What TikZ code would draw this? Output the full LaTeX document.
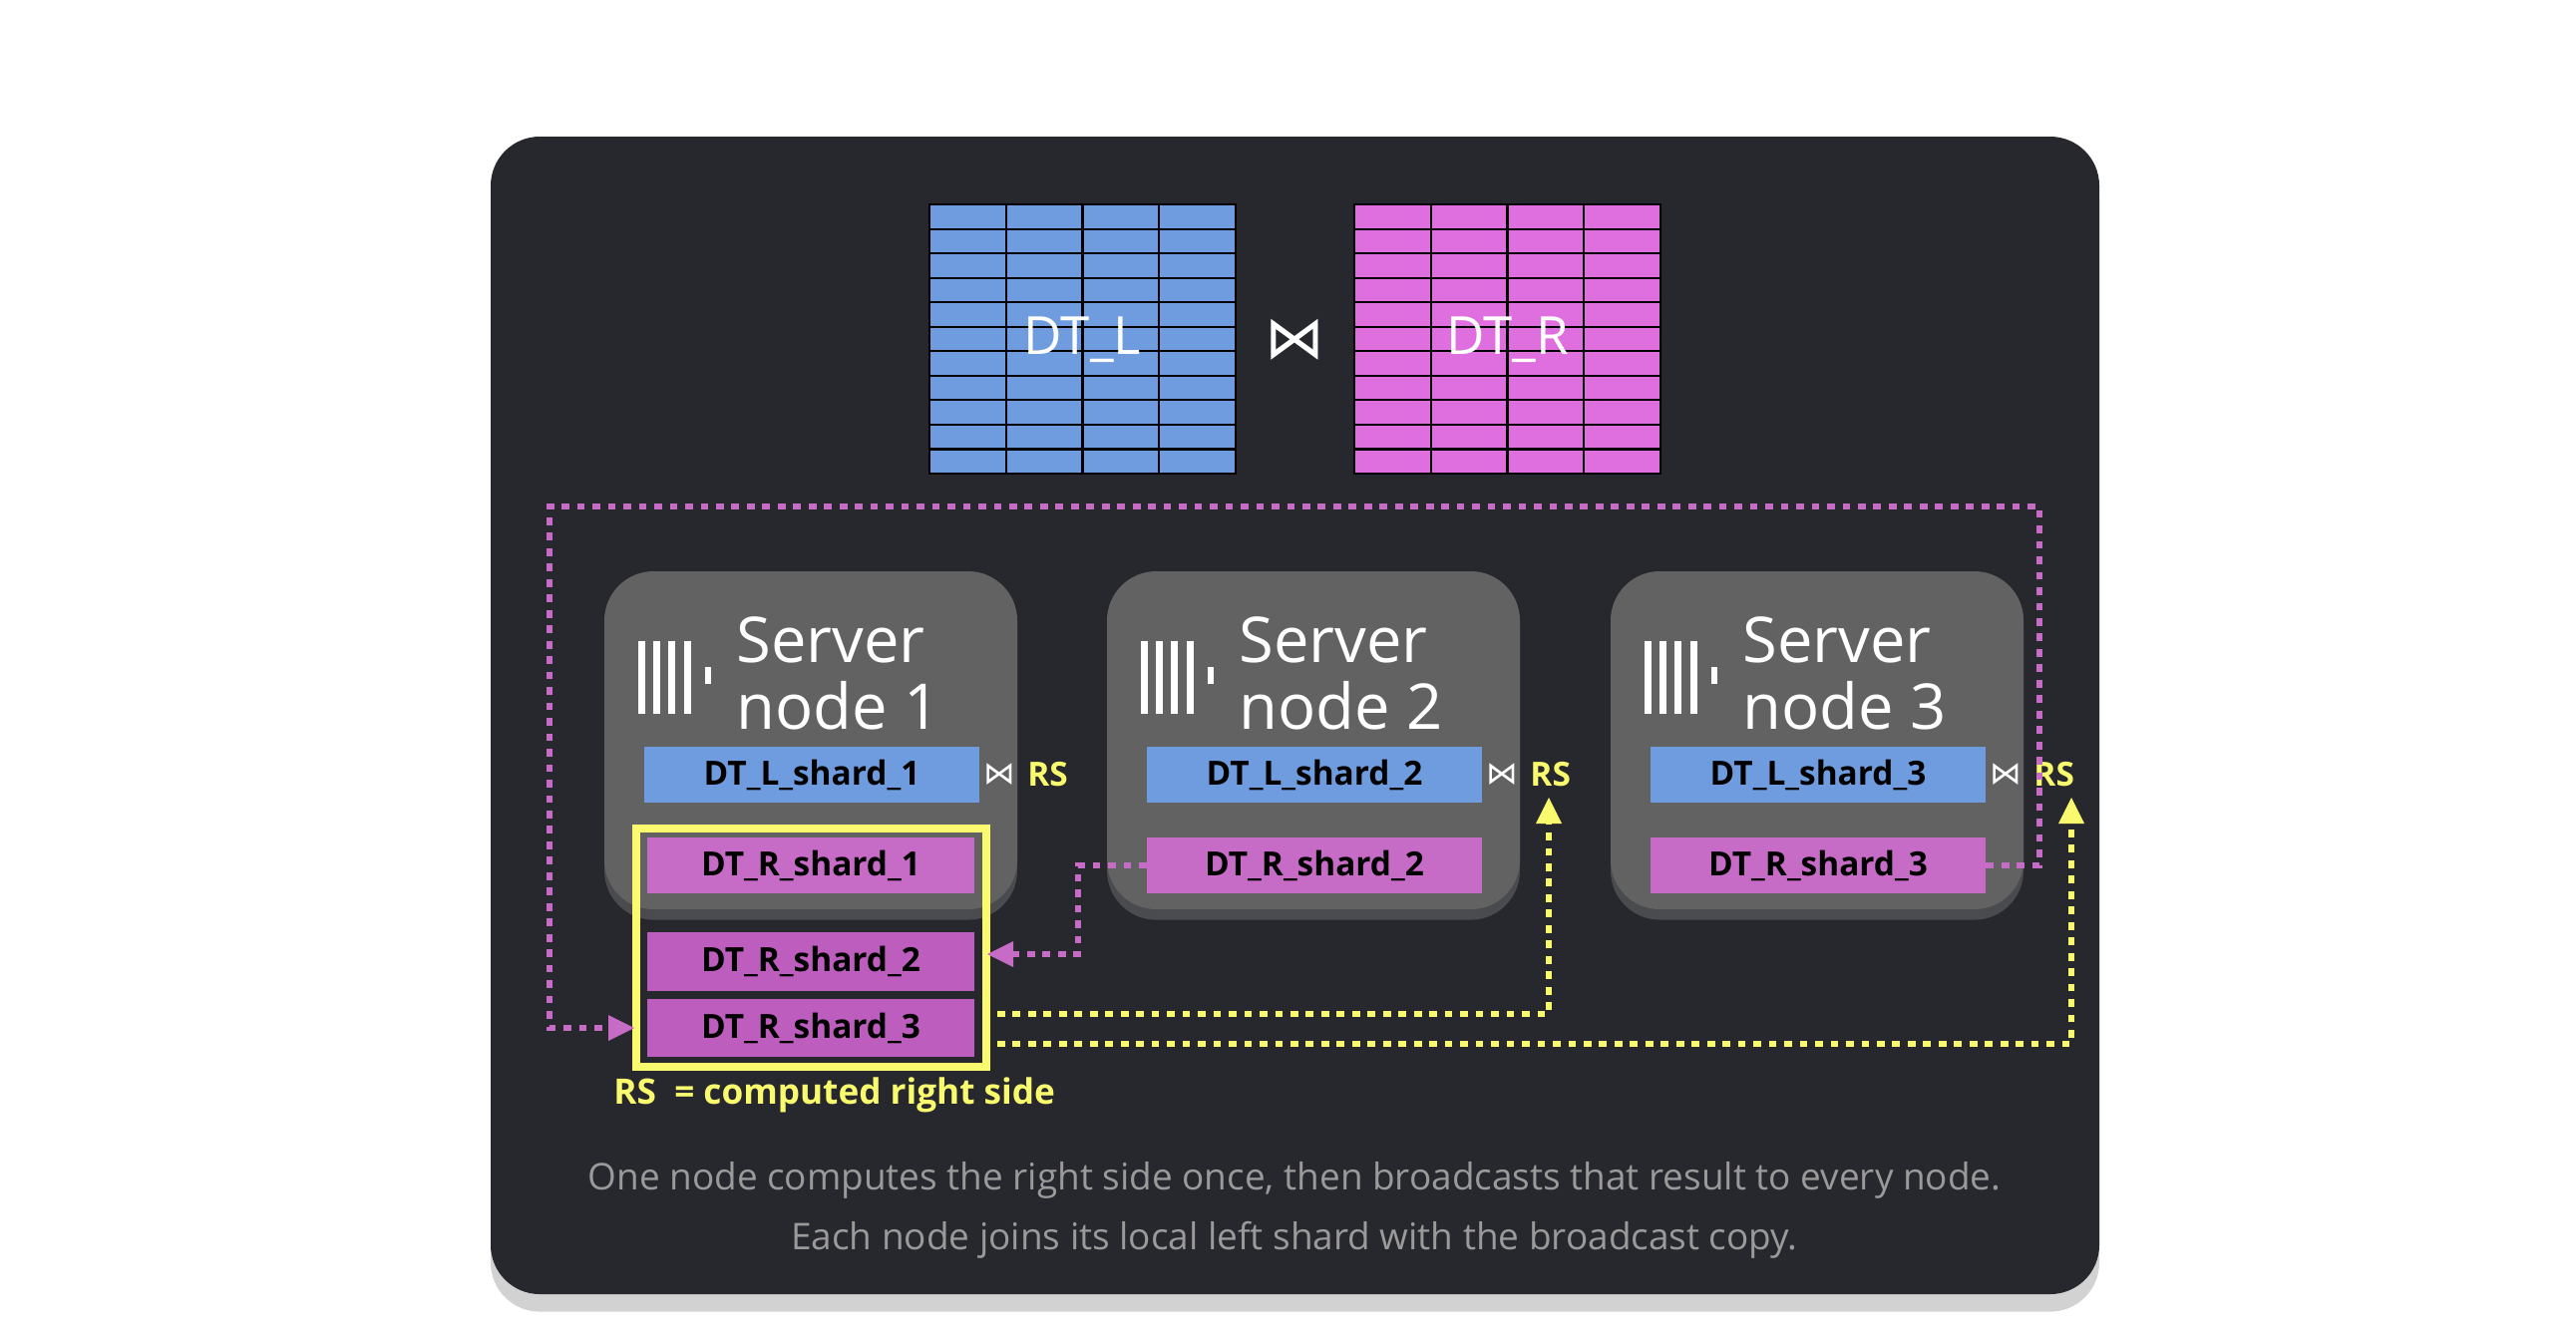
\documentclass[tikz,border=0pt]{standalone}
\usepackage{fontspec}
\setmainfont{Open Sans}
\newfontfamily\djv{DejaVu Sans}
\usetikzlibrary{arrows.meta,shadows}
\definecolor{panel}{HTML}{27282D}
\definecolor{srv}{HTML}{626262}
\definecolor{blu}{HTML}{6F9CDE}
\definecolor{mag}{HTML}{DF6EDE}
\definecolor{shm}{HTML}{C66BC6}
\definecolor{shm2}{HTML}{BD5DBD}
\definecolor{yel}{HTML}{FAFA6E}
\definecolor{capg}{HTML}{9A9A9A}
\begin{document}
\begin{tikzpicture}[x=0.01cm,y=-0.01cm,
  server/.style={fill=srv,rounded corners=14pt,draw=none,drop shadow={shadow xshift=0pt,shadow yshift=-3pt,opacity=.4}},
  shard/.style={minimum width=3.35cm,minimum height=0.56cm,inner sep=0,font=\fontsize{9.5}{11}\selectfont\bfseries,text=black},
  rs/.style={font=\fontsize{9.5}{11}\selectfont\bfseries,text=yel},
  jn/.style={font=\djv\fontsize{9}{11}\selectfont,text=white},
  sname/.style={font=\fontsize{18}{19}\selectfont,text=white,align=left,anchor=west},
  mdot/.style={draw=shm,line width=1.7pt,dash pattern=on 2.2pt off 2.2pt},
  ydot/.style={draw=yel,line width=1.7pt,dash pattern=on 2.2pt off 2.2pt},
]
\useasboundingbox (0,0) rectangle (2583,1335);
\fill[white] (0,0) rectangle (2583,1335);
\fill[panel,rounded corners=14pt,drop shadow={shadow xshift=0pt,shadow yshift=-5pt,opacity=.35}] (492,137) rectangle (2105,1298);
% tables
\foreach \x/\c/\t in {932/blu/DT\_L,1358/mag/DT\_R}{
  \fill[\c] (\x,205) rectangle ++(307,270);
  \foreach \i in {1,...,10} \draw[black,line width=0.6pt] (\x,205+\i*24.55) -- ++(307,0);
  \foreach \j in {1,2,3} \draw[black,line width=0.6pt] (\x+\j*76.75,205) -- ++(0,270);
  \draw[black,line width=0.8pt] (\x,205) rectangle ++(307,270);
  \node[font=\fontsize{15}{16}\selectfont,text=white] at (\x+153.5,341) {\t};
}
\node[font=\djv\fontsize{17}{18}\selectfont,text=white] (tj) at (1298,341) {⋈};
% servers
\foreach \n/\x in {1/606,2/1110,3/1615}{
  \fill[server] (\x,573) rectangle ++(414,339);
  \foreach \b in {0,15,30,46} \fill[white] (\x+34+\b,643) rectangle ++(7,73);
  \fill[white] (\x+101,669) rectangle ++(6,17);
  \node[sname] (sn\n) at (\x+120,675) {Server\\node \n};
  \node[shard,fill=blu] (L\n) at (\x+208,777) {DT\_L\_shard\_\n};
  \node[jn] (j\n) at (\x+396,777) {⋈};
  \node[rs,anchor=west] (rs\n) at (\x+412,777) {RS};
}
\node[shard,fill=shm,minimum width=3.28cm] (R1) at (813,868) {DT\_R\_shard\_1};
\node[shard,fill=shm] (R2) at (1318,868) {DT\_R\_shard\_2};
\node[shard,fill=shm] (R3) at (1823,868) {DT\_R\_shard\_3};
\node[shard,fill=shm2,minimum width=3.28cm,minimum height=0.59cm] (C2) at (813,964) {DT\_R\_shard\_2};
\node[shard,fill=shm2,minimum width=3.28cm,minimum height=0.58cm] (C3) at (813,1031) {DT\_R\_shard\_3};
\draw[yel,line width=2.4pt] (638,831) rectangle (989,1070);
% magenta connectors
\draw[mdot] (R2.west) -- (1081,868) -- (1081,957) -- (1005,957);
\fill[shm] (990,957) -- (1016,944) -- (1016,970) -- cycle;
\draw[mdot] (R3.east) -- (2045,868) -- (2045,508) -- (551,508) -- (551,1031) -- (615,1031);
\fill[shm] (636,1031) -- (610,1018) -- (610,1044) -- cycle;
% yellow connectors
\draw[ydot] (1000,1017) -- (1553,1017) -- (1553,820);
\fill[yel] (1553,800) -- (1540,826) -- (1566,826) -- cycle;
\draw[ydot] (1000,1047) -- (2077,1047) -- (2077,820);
\fill[yel] (2077,800) -- (2064,826) -- (2090,826) -- cycle;
% legend
\node[rs,anchor=west,font=\fontsize{10}{12}\selectfont\bfseries] (leg) at (603,1098) {RS\ \ = computed right side};
\node[font=\fontsize{10.5}{17}\selectfont,text=capg,align=center] (cap) at (1298,1214) {One node computes the right side once, then broadcasts that result to every node.\\Each node joins its local left shard with the broadcast copy.};
\end{tikzpicture}
\end{document}
